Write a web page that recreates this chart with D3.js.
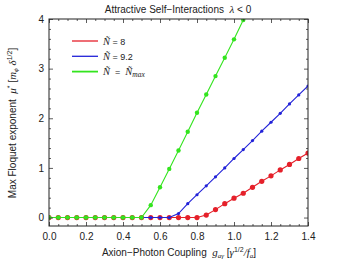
<!DOCTYPE html>
<html>
<head>
<meta charset="utf-8">
<script src="https://cdn.jsdelivr.net/npm/d3@7"></script>
<style>
  body { margin: 0; background: #fff; }
  svg { display: block; font-family: "Liberation Sans", Arial, sans-serif; }
  text { white-space: pre; }
</style>
</head>
<body>
<div></div>
<script>
// coupling values (x)
let gVals = [0, 0.05, 0.1, 0.15, 0.2, 0.25, 0.3, 0.35, 0.4, 0.45, 0.5, 0.55, 0.6, 0.65, 0.7,
  0.75, 0.8, 0.85, 0.9, 0.95, 1.0, 1.05, 1.1, 1.15, 1.2, 1.25, 1.3, 1.35, 1.4]

let redVals = [0, 0, 0, 0, 0, 0, 0, 0, 0, 0, 0, 0, 0, 0, 0, 0, 0,
  0.05, 0.16, 0.28, 0.39, 0.49, 0.61, 0.73, 0.84, 0.96, 1.07, 1.19, 1.30]
let blueVals = [0, 0, 0, 0, 0, 0, 0, 0, 0, 0, 0, 0, 0, 0,
  0.08, 0.28, 0.46, 0.64, 0.82, 1.0, 1.19, 1.37, 1.55, 1.74, 1.92, 2.1, 2.29, 2.47, 2.65]
let greenVals = [0, 0, 0, 0, 0, 0, 0, 0, 0, 0, 0,
  0.25, 0.61, 0.98, 1.35, 1.73, 2.11, 2.48, 2.85, 3.22, 3.59, 3.98]

let xTicks = [0, 0.2, 0.4, 0.6, 0.8, 1.0, 1.2, 1.4]
let yTicks = [0, 1, 2, 3, 4]

let w = 341, h = 264
let pLeft = 49, pRight = 308, pTop = 19, pBottom = 226

let svg = d3.select("div").append("svg").attr("width", w).attr("height", h)

let x = d3.scaleLinear().domain([0, 1.4]).range([pLeft, pRight])
let y = d3.scaleLinear().domain([-0.17, 4]).range([pBottom, pTop])

svg.append("clipPath").attr("id", "clip")
  .append("rect").attr("x", pLeft).attr("y", pTop).attr("width", pRight - pLeft).attr("height", pBottom - pTop)

let series = [
  { vals: redVals, color: "#e5202a", r: 2.6 },
  { vals: blueVals, color: "#2222d8", r: 1.6 },
  { vals: greenVals, color: "#33e41e", r: 2.2 }
]

let plot = svg.append("g").attr("clip-path", "url(#clip)")
let line = d3.line().x((d, i) => x(gVals[i])).y(d => y(d))

series.forEach(s => {
  plot.append("path").attr("d", line(s.vals))
    .attr("fill", "none").attr("stroke", s.color).attr("stroke-width", 1.1)
  plot.selectAll(null).data(s.vals).enter().append("circle")
    .attr("cx", (d, i) => x(gVals[i])).attr("cy", d => y(d))
    .attr("r", s.r).attr("fill", s.color)
})

// minor ticks
let minorX = d3.range(0, 1.401, 0.05).filter(v => Math.abs(v * 5 - Math.round(v * 5)) > 1e-6)
let minorY = d3.range(0, 4.001, 0.2).filter(v => Math.abs(v - Math.round(v)) > 1e-6)

function styleAxis(g) {
  g.select(".domain").remove()
  g.selectAll("line").attr("stroke", "#333").attr("stroke-width", 0.8)
  g.selectAll("text").attr("font-size", 10).attr("fill", "#222")
}

svg.append("g").attr("transform", `translate(0,${pBottom})`)
  .call(d3.axisBottom(x).tickValues(xTicks).tickFormat(d3.format(".1f")).tickSize(-4).tickPadding(7))
  .call(styleAxis)
svg.append("g").attr("transform", `translate(0,${pBottom})`)
  .call(d3.axisBottom(x).tickValues(minorX).tickFormat("").tickSize(-2)).call(styleAxis)
svg.append("g").attr("transform", `translate(0,${pTop})`)
  .call(d3.axisTop(x).tickValues(xTicks).tickFormat("").tickSize(-4)).call(styleAxis)
svg.append("g").attr("transform", `translate(0,${pTop})`)
  .call(d3.axisTop(x).tickValues(minorX).tickFormat("").tickSize(-2)).call(styleAxis)

svg.append("g").attr("transform", `translate(${pLeft},0)`)
  .call(d3.axisLeft(y).tickValues(yTicks).tickFormat(d3.format("d")).tickSize(-4).tickPadding(5))
  .call(styleAxis)
svg.append("g").attr("transform", `translate(${pLeft},0)`)
  .call(d3.axisLeft(y).tickValues(minorY).tickFormat("").tickSize(-2)).call(styleAxis)
svg.append("g").attr("transform", `translate(${pRight},0)`)
  .call(d3.axisRight(y).tickValues(yTicks).tickFormat("").tickSize(-4)).call(styleAxis)
svg.append("g").attr("transform", `translate(${pRight},0)`)
  .call(d3.axisRight(y).tickValues(minorY).tickFormat("").tickSize(-2)).call(styleAxis)

// frame
svg.append("rect").attr("x", pLeft).attr("y", pTop).attr("width", pRight - pLeft).attr("height", pBottom - pTop)
  .attr("fill", "none").attr("stroke", "#222").attr("stroke-width", 1)

// title
let title = svg.append("text").attr("x", 178).attr("y", 13).attr("text-anchor", "middle")
  .attr("font-size", 10).attr("fill", "#222")
title.append("tspan").text("Attractive Self\u2212Interactions  ")
title.append("tspan").attr("font-family", "Liberation Serif").attr("font-style", "italic").attr("font-size", 11).text("\u03bb")
title.append("tspan").text(" < 0")

// x label
let xl = svg.append("text").attr("x", 179).attr("y", 256).attr("text-anchor", "middle")
  .attr("font-size", 10).attr("fill", "#222")
xl.append("tspan").text("Axion\u2212Photon Coupling  ")
xl.append("tspan").attr("font-family", "Liberation Serif").attr("font-style", "italic").attr("font-size", 11).text("g")
xl.append("tspan").attr("font-family", "Liberation Serif").attr("font-style", "italic").attr("font-size", 7).attr("dy", 2).text("a\u03b3")
xl.append("tspan").attr("dy", -2).text(" [")
xl.append("tspan").attr("font-family", "Liberation Serif").attr("font-style", "italic").attr("font-size", 11).text("\u03b3")
xl.append("tspan").attr("font-size", 7).attr("dy", -4).text("1/2")
xl.append("tspan").attr("dy", 4).attr("font-family", "Liberation Serif").attr("font-style", "italic").attr("font-size", 11).text("/f")
xl.append("tspan").attr("font-family", "Liberation Serif").attr("font-style", "italic").attr("font-size", 7).attr("dy", 2).text("a")
xl.append("tspan").attr("dy", -2).text("]")

// y label
let yl = svg.append("text").attr("transform", "translate(16,123) rotate(-90)").attr("text-anchor", "middle")
  .attr("font-size", 10).attr("fill", "#222")
yl.append("tspan").text("Max Floquet exponent  ")
yl.append("tspan").attr("font-family", "Liberation Serif").attr("font-style", "italic").attr("font-size", 11).text("\u03bc")
yl.append("tspan").attr("font-size", 7).attr("dy", -4).text("*")
yl.append("tspan").attr("dy", 4).text(" [")
yl.append("tspan").attr("font-family", "Liberation Serif").attr("font-style", "italic").attr("font-size", 11).text("m")
yl.append("tspan").attr("font-family", "Liberation Serif").attr("font-style", "italic").attr("font-size", 7).attr("dy", 2).text("\u03d5")
yl.append("tspan").attr("dy", -2).text(" ")
yl.append("tspan").attr("font-family", "Liberation Serif").attr("font-style", "italic").attr("font-size", 11).text("\u03b4")
yl.append("tspan").attr("font-size", 7).attr("dy", -4).text("1/2")
yl.append("tspan").attr("dy", 4).text("]")

// legend
let legend = [
  { color: "#e5202a", label: "8", sw: 1.3 },
  { color: "#2222d8", label: "9.2", sw: 1.3 },
  { color: "#33e41e", label: null, sw: 1.8 }
]
let lg = svg.append("g")
legend.forEach((d, i) => {
  let ly = 41 + i * 15.3
  lg.append("line").attr("x1", 72).attr("x2", 98).attr("y1", ly).attr("y2", ly)
    .attr("stroke", d.color).attr("stroke-width", d.sw)
  let t = lg.append("text").attr("x", 103).attr("y", ly + 3.5).attr("font-size", 9).attr("fill", "#222")
  t.append("tspan").attr("font-family", "Liberation Serif").attr("font-style", "italic").attr("font-size", 10.5).text("\u00d1")
  if (d.label) {
    t.append("tspan").text(" = " + d.label)
  } else {
    t.append("tspan").text("  =  ")
    t.append("tspan").attr("font-family", "Liberation Serif").attr("font-style", "italic").attr("font-size", 10.5).text("\u00d1")
    t.append("tspan").attr("font-family", "Liberation Serif").attr("font-style", "italic").attr("font-size", 7.5).attr("dy", 2).text("max")
  }
})
</script>
</body>
</html>
